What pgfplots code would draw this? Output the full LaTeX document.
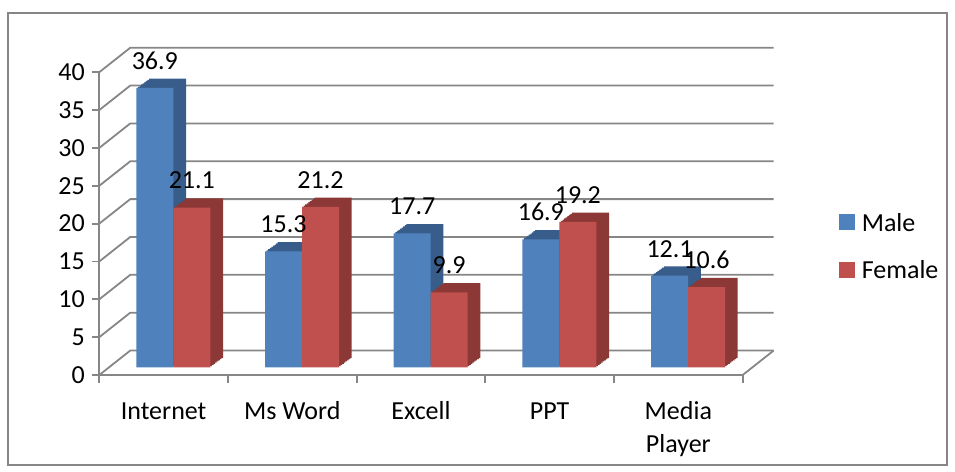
\documentclass[border=0pt]{standalone}
\usepackage{pgfplots}
\pgfplotsset{compat=1.18}
\usepackage{pgfplotstable}
\usepackage{fontspec}
\setmainfont{Carlito}
\definecolor{mfront}{HTML}{4F81BD}
\definecolor{mside}{HTML}{385D8A}
\definecolor{ffront}{HTML}{C0504D}
\definecolor{fside}{HTML}{8C3836}
\definecolor{gridc}{HTML}{868686}
\newcommand{\cfont}{\fontsize{13}{15.6}\selectfont}

\pgfplotstableread{
x male female
0.5 36.9 21.1
1.5 15.3 21.2
2.5 17.7 9.9
3.5 16.9 19.2
4.5 12.1 10.6
}\datatable

\begin{document}
\begin{tikzpicture}[font=\cfont]
\useasboundingbox (0,0) rectangle (477.5pt,-236pt);
\draw[gridc, line width=0.75pt] (4pt,-6.5pt) rectangle (473.5pt,-232.5pt);
\begin{axis}[
  at={(49.65pt,-187.5pt)}, anchor=south west,
  scale only axis, width=321.7pt, height=164.65pt,
  xmin=0, xmax=5, ymin=0, ymax=43.5, enlargelimits=false,
  clip=false,
  axis x line*=bottom, axis y line*=left,
  axis line style={draw=none},
  /pgf/number format/assume math mode=true,
  tick style={gridc, line width=0.9pt},
  tick align=outside, major tick length=3.75pt,
  ytick={0,5,...,40},
  yticklabel style={font=\cfont, text=black},
  xtick={0,1,2,3,4,5}, xticklabels={},
  extra x ticks={0.5,1.5,2.5,3.5,4.5},
  extra x tick labels={\strut Internet,\strut Ms Word,\strut Excell,\strut PPT,{\strut Media\\[0.8pt]Player}},
  extra x tick style={major tick length=0pt, tick style={draw=none},
     tick label style={font=\cfont, align=center, anchor=north, text=black, yshift=-8pt}},
  bar width=0.2875,
  legend cell align=left,
  legend style={draw=none, fill=none, font=\cfont,
     at={(axis description cs:1.1495,0.4889)}, anchor=north west,
     inner sep=0pt, row sep=15.45pt,
     nodes={inner sep=0pt, text height=8.4pt, text depth=0pt},
     /tikz/every odd column/.append style={column sep=3.35pt}},
]
% walls and gridlines
\pgfplotsinvokeforeach{0,5,...,40}{
  \draw[gridc, line width=0.9pt] (axis cs:0,#1) -- ([shift={(15.5pt,12.25pt)}]axis cs:0,#1) -- ([shift={(15.5pt,12.25pt)}]axis cs:5,#1);
}
\draw[gridc, line width=0.9pt] (axis cs:0,0) -- (axis cs:0,40);
\draw[gridc, line width=0.9pt] (axis cs:0,0) -- (axis cs:5,0) -- ([shift={(15.5pt,12.25pt)}]axis cs:5,0);

% Male: depth then front
\pgfplotsinvokeforeach{1,...,8}{
  \addplot[ybar, bar shift=-0.14375, fill=mside, draw=none, forget plot,
    xshift={4.85pt+#1*0.79375pt}, yshift={3.85pt+#1*0.58125pt}]
    table[x=x, y=male]{\datatable};
}
\addplot[ybar, bar shift=-0.14375, fill=mfront, draw=none, forget plot,
  xshift=4.85pt, yshift=3.85pt,
  nodes near coords,
  every node near coord/.append style={font=\cfont, anchor=base, xshift=-9.25pt, yshift=9.35pt, text=black}]
  table[x=x, y=male]{\datatable};
% Female
\pgfplotsinvokeforeach{1,...,8}{
  \addplot[ybar, bar shift=0.14375, fill=fside, draw=none, forget plot,
    xshift={4.85pt+#1*0.79375pt}, yshift={3.85pt+#1*0.58125pt}]
    table[x=x, y=female]{\datatable};
}
\addplot[ybar, bar shift=0.14375, fill=ffront, draw=none, forget plot,
  xshift=4.85pt, yshift=3.85pt,
  nodes near coords,
  every node near coord/.append style={font=\cfont, anchor=base, xshift=9.25pt, yshift=9.35pt, text=black}]
  table[x=x, y=female]{\datatable};

\addlegendimage{legend image code/.code={\fill[mfront] (0pt,-3.5pt) rectangle (7.5pt,4pt);}}
\addlegendentry{Male}
\addlegendimage{legend image code/.code={\fill[ffront] (0pt,-3.5pt) rectangle (7.5pt,4pt);}}
\addlegendentry{Female}
\end{axis}
\end{tikzpicture}
\end{document}
